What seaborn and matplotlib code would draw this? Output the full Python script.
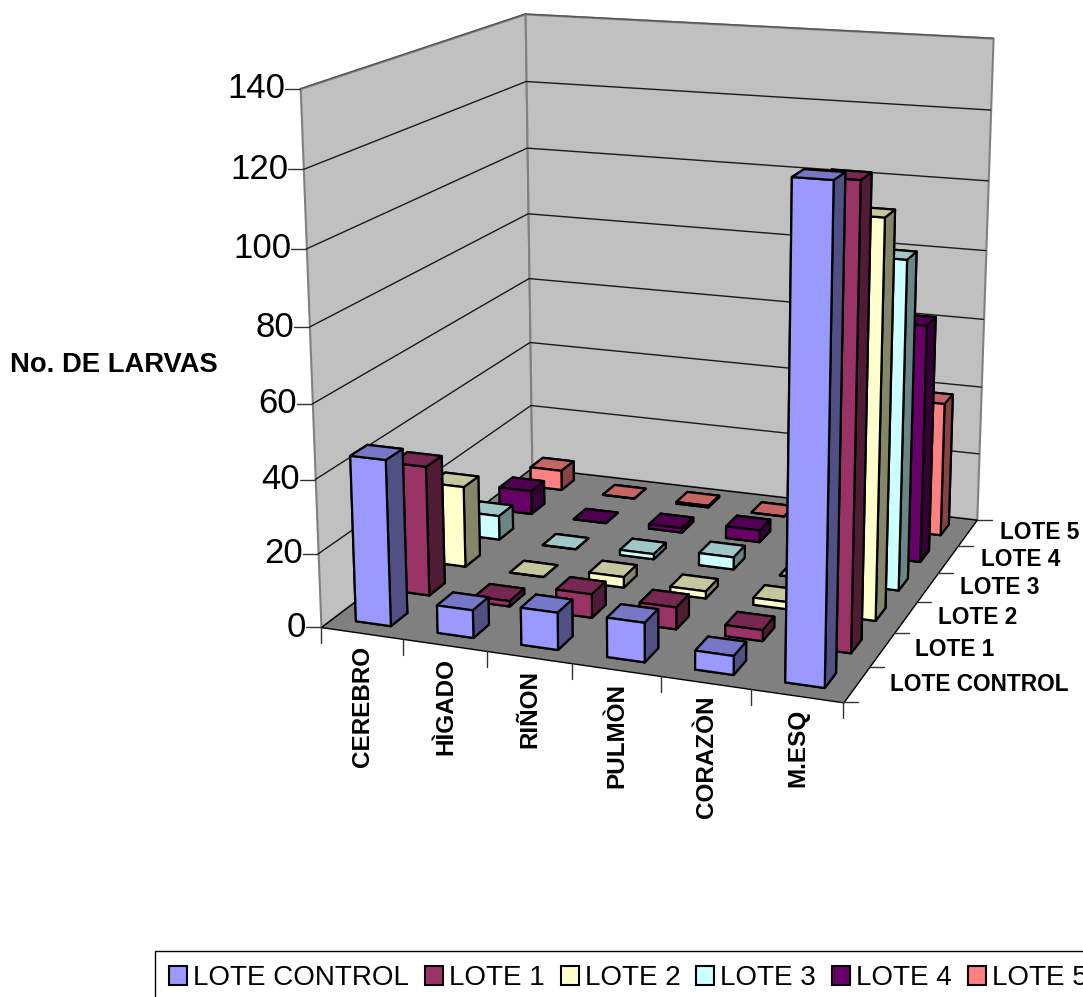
import numpy as np
import pandas as pd
import matplotlib
matplotlib.use("Agg")
import matplotlib.pyplot as plt
import seaborn as sns
from matplotlib.lines import Line2D
from matplotlib.patches import Patch
from matplotlib.transforms import IdentityTransform
from mpl_toolkits.mplot3d import proj3d
from mpl_toolkits.mplot3d.art3d import Poly3DCollection

sns.set_theme(style="white")
plt.rcParams["font.family"] = ["Liberation Sans", "DejaVu Sans"]

# ====================== DATA ======================
ORGANS = ["CEREBRO", "HÌGADO", "RIÑON", "PULMÒN", "CORAZÒN", "M.ESQ"]
LOTES = ["LOTE CONTROL", "LOTE 1", "LOTE 2", "LOTE 3", "LOTE 4", "LOTE 5"]

LOTE_CONTROL = [45, 7.5, 10, 10.5, 5, 125.5]
LOTE_1 = [36, 1.5, 6.5, 6, 3, 121]
LOTE_2 = [23, 0, 3, 2, 2, 107]
LOTE_3 = [7, 0, 1.5, 3.5, 0, 91]
LOTE_4 = [7, 0, 1.3, 3.5, 0, 67.5]
LOTE_5 = [6, 0, 0.5, 0, 0, 39]

Z_TICKS = [0, 20, 40, 60, 80, 100, 120, 140]
COLORS = ["#9999FF", "#993366", "#FFFFCC", "#CCFFFF", "#660066", "#FF8080"]

WIDTH_PX, HEIGHT_PX = 1083, 997
SIDE_PX = 1000  # the 3D axes are bigger than the box so nothing gets clipped
BAR_W = 0.43
BAR_D = 0.42


def to_px(ax, x, y, z):
    """Project a data point to display pixels (origin bottom left)."""
    xs, ys, _ = proj3d.proj_transform(x, y, z, ax.get_proj())
    return ax.transData.transform((xs, ys))


def face_colors(color):
    """Excel style flat shading: -z, +z, -y, +y, -x, +x."""
    rgb = np.array(matplotlib.colors.to_rgb(color))
    top = tuple(rgb * 0.78)
    side = tuple(rgb * 0.52)
    # bottom gets the top colour too, zero height bars would flip otherwise
    return [top, top, tuple(rgb), side, side, side]


def draw_walls(ax, nx, ny, zmax):
    floor = [[(0, 0, 0), (nx, 0, 0), (nx, ny, 0), (0, ny, 0)]]
    left = [[(0, 0, 0), (0, ny, 0), (0, ny, zmax), (0, 0, zmax)]]
    back = [[(0, ny, 0), (nx, ny, 0), (nx, ny, zmax), (0, ny, zmax)]]
    for verts in (left, back):
        ax.add_collection3d(Poly3DCollection(verts, facecolor="#C0C0C0", edgecolor="#808080",
                                             linewidth=1.5, zorder=1))
    ax.add_collection3d(Poly3DCollection(floor, facecolor="#808080", edgecolor="#000000",
                                         linewidth=1, zorder=2))
    for z in Z_TICKS[1:-1]:
        ax.plot([0, 0, nx], [0, ny, ny], [z, z, z], color="#1a1a1a", lw=1, zorder=3)
    ax.plot([0, 0, nx], [0, ny, ny], [zmax, zmax, zmax], color="#555555", lw=1, zorder=3)


def draw_bars(ax, df):
    zorder = 10
    for j in range(len(LOTES) - 1, -1, -1):
        for i in range(len(ORGANS)):
            ax.bar3d(i + (1 - BAR_W) / 2, j + (1 - BAR_D) / 2, 0, BAR_W, BAR_D, df.iloc[j, i],
                     color=face_colors(COLORS[j]), shade=False,
                     edgecolor="black", linewidth=1.6, zorder=zorder)
            zorder += 1


def draw_labels(fig, ax, nx, ny):
    identity = IdentityTransform()
    tick_kw = dict(color="#333333", lw=1, transform=identity)

    # value axis
    for z in Z_TICKS:
        px, py = to_px(ax, 0, 0, z)
        fig.add_artist(Line2D([px - 15, px], [py, py], **tick_kw))
        fig.text(px - 15, py, str(z), transform=identity, ha="right", va="center",
                 fontsize=25, color="black")

    # organ axis
    for i in range(nx + 1):
        px, py = to_px(ax, i, 0, 0)
        fig.add_artist(Line2D([px, px], [py, py - 16], **tick_kw))
    for i, organ in enumerate(ORGANS):
        px, py = to_px(ax, i + 0.5, 0, 0)
        fig.text(px + 1, py - 13, organ, transform=identity, rotation=90, ha="center", va="top",
                 fontsize=17.5, fontweight="bold", color="black")

    # lot axis
    for j in range(ny + 1):
        px, py = to_px(ax, nx, j, 0)
        fig.add_artist(Line2D([px, px + 15], [py, py], **tick_kw))
    for j, lote in enumerate(LOTES):
        px, py = to_px(ax, nx, j + 0.5, 0)
        fig.text(px + 33, py, lote, transform=identity, ha="left", va="center",
                 fontsize=16.3, fontweight="bold", color="black")

    fig.text(10, HEIGHT_PX - 365, "No. DE LARVAS", transform=identity, ha="left", va="center",
             fontsize=19.7, fontweight="bold", color="black")


def main():
    df = pd.DataFrame([LOTE_CONTROL, LOTE_1, LOTE_2, LOTE_3, LOTE_4, LOTE_5],
                      index=LOTES, columns=ORGANS)
    nx, ny = len(ORGANS), len(LOTES)

    fig = plt.figure(figsize=(WIDTH_PX / 100, HEIGHT_PX / 100), dpi=100)
    left = (668 - 0.5135 * SIDE_PX) / WIDTH_PX
    bottom = (674 - 0.5135 * SIDE_PX) / HEIGHT_PX
    ax = fig.add_axes([left, bottom, SIDE_PX / WIDTH_PX, SIDE_PX / HEIGHT_PX],
                      projection="3d", computed_zorder=False)
    ax.set_proj_type("persp", focal_length=0.462)
    ax.view_init(elev=15, azim=-70)
    ax.set_box_aspect((0.975, 0.968, 0.977), zoom=0.881)
    ax.set_xlim(0, nx, view_margin=0)
    ax.set_ylim(0, ny, view_margin=0)
    ax.set_zlim(0, Z_TICKS[-1], view_margin=0)
    ax.set_axis_off()
    ax.patch.set_alpha(0)

    draw_walls(ax, nx, ny, Z_TICKS[-1])
    draw_bars(ax, df)

    fig.canvas.draw()
    draw_labels(fig, ax, nx, ny)

    handles = [Patch(facecolor=c, edgecolor="black", linewidth=1.5) for c in COLORS]
    legend = fig.legend(handles, LOTES, ncol=6, loc="lower left", fontsize=20,
                        bbox_to_anchor=(155 / WIDTH_PX, -8 / HEIGHT_PX),
                        fancybox=False, edgecolor="black", framealpha=1,
                        handlelength=0.65, handleheight=0.72, handletextpad=0.22,
                        columnspacing=0.57, borderpad=0.5, borderaxespad=0, labelcolor="black")
    legend.get_frame().set_linewidth(1)

    fig.savefig("out.png", dpi=100)


if __name__ == "__main__":
    main()
